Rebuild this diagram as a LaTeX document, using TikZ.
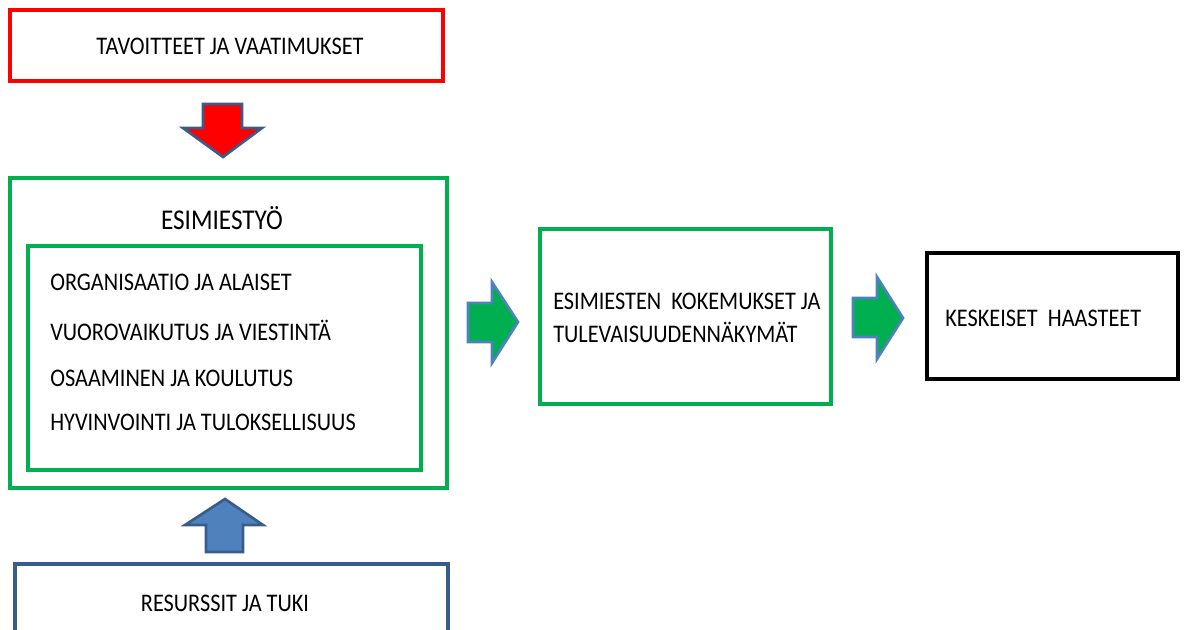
\documentclass[tikz,border=0pt]{standalone}
\usepackage{fontspec}
\setmainfont{Carlito}[FakeStretch=0.88]
\usetikzlibrary{positioning}

\begin{document}
\begin{tikzpicture}[x=0.75pt,y=-0.75pt,font=\fontsize{19}{24.75}\selectfont]
  \useasboundingbox (0,0) rectangle (1184,629);
  \definecolor{boxred}{HTML}{FF0000}
  \definecolor{boxgreen}{HTML}{00B050}
  \definecolor{boxblue}{HTML}{385D8A}
  \definecolor{arrowblue}{HTML}{4F81BD}
  \tikzset{frame/.style={line width=2.3pt,line join=miter},
           label/.style={inner sep=0pt,anchor=west},
           blockarrow/.style={line width=2pt,line join=miter}}
  % boxes
  \draw[frame,draw=boxred] (10,10) rectangle (443,81);
  \draw[frame,draw=boxgreen] (10,178) rectangle (447,488);
  \draw[frame,draw=boxgreen] (28,246) rectangle (421,470);
  \draw[frame,draw=boxgreen] (540,229) rectangle (831,404);
  \draw[frame,draw=black] (927,253) rectangle (1178,379);
  \draw[frame,draw=boxblue] (15,632)--(15,564)--(448,564)--(448,632);
  % texts
  \node[inner sep=0pt] (goals) at (230,46) {TAVOITTEET JA VAATIMUKSET};
  \node[inner sep=0pt,font=\fontsize{21.5}{26}\selectfont] (work) at (222,218) {ESIMIESTYÖ};
  \node[label] (org) at (50,282) {ORGANISAATIO JA ALAISET};
  \node[label] (comm) at (50,330) {VUOROVAIKUTUS JA VIESTINTÄ};
  \node[label] (skill) at (50,378) {OSAAMINEN JA KOULUTUS};
  \node[label] (well) at (50,422) {HYVINVOINTI JA TULOKSELLISUUS};
  \node[label,align=left] (exp) at (553,318)
    {ESIMIESTEN\hspace{0.2em} KOKEMUKSET JA\\TULEVAISUUDENNÄKYMÄT};
  \node[label] (chal) at (945,318) {KESKEISET\hspace{0.2em} HAASTEET};
  \node[inner sep=0pt] (res) at (225,603) {RESURSSIT JA TUKI};
  % block arrows
  \draw[blockarrow,fill=boxred,draw=boxblue]
    (203,104)--(242,104)--(242,128)--(262,128)--(223,157)--(183,128)--(203,128)--cycle;
  \draw[blockarrow,fill=arrowblue,draw=boxblue]
    (206,552)--(243,552)--(243,525)--(263,525)--(225,499)--(185,525)--(206,525)--cycle;
  \draw[blockarrow,fill=boxgreen,draw=arrowblue]
    (468,303)--(492,303)--(492,282)--(518,322)--(492,363)--(492,342)--(468,342)--cycle;
  \draw[blockarrow,fill=boxgreen,draw=arrowblue]
    (853,298)--(877,298)--(877,277)--(903,318)--(877,359)--(877,337)--(853,337)--cycle;
\end{tikzpicture}
\end{document}
